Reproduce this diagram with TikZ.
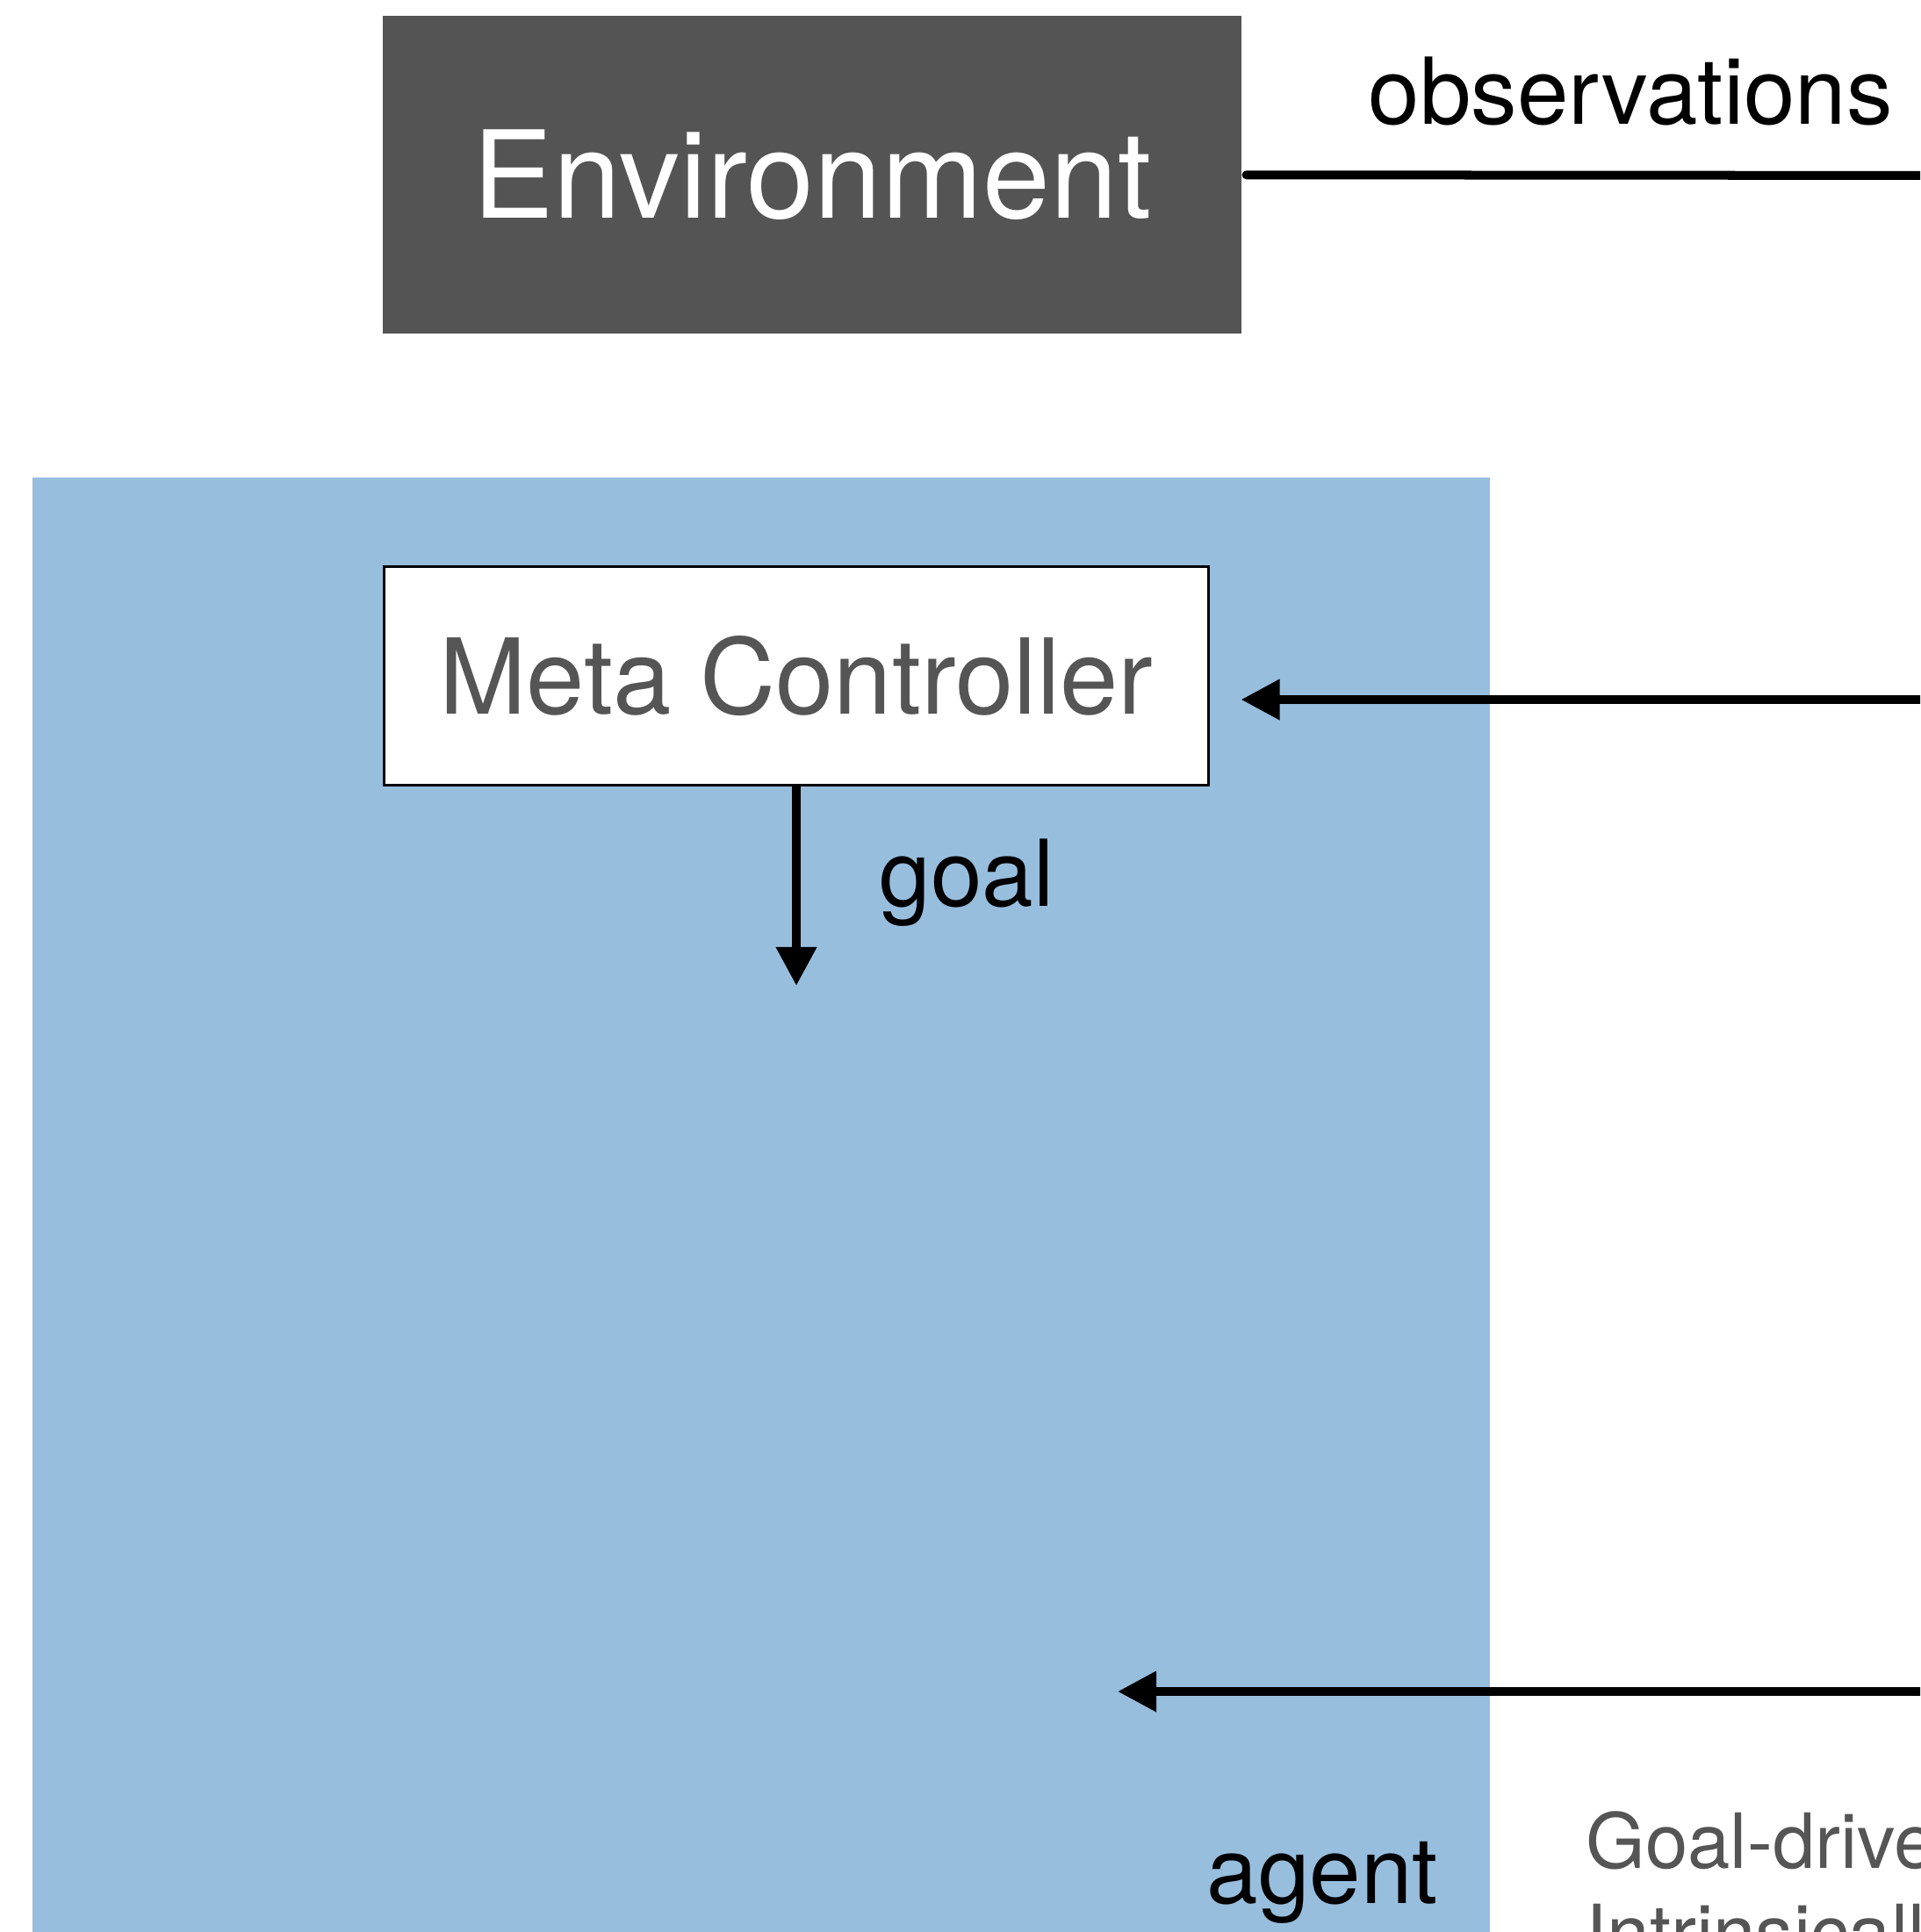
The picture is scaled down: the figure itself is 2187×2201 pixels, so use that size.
\documentclass[tikz,border=0pt]{standalone}
\usepackage{fontspec}
\setmainfont{TeX Gyre Heros}
\usetikzlibrary{arrows.meta}
\definecolor{agentblue}{RGB}{152,190,222}
\definecolor{envgray}{RGB}{84,84,84}
\definecolor{txtgray}{RGB}{85,85,85}
\begin{document}
\begin{tikzpicture}[x=0.01cm,y=-0.01cm,
  conn/.style={line width=0.1cm, -{Triangle[length=0.44cm,width=0.44cm]}},
  lbl/.style={inner sep=0, anchor=base west, font=\fontsize{29.9}{36}\selectfont},
  note/.style={lbl, text=txtgray, font=\fontsize{24.7}{30}\selectfont}]
\useasboundingbox (0,0) rectangle (2187,2201);
\clip (0,0) rectangle (2187,2201);

% agent area
\fill[agentblue] (36.7,544) rectangle (1697,2260);

% boxes
\node[fill=envgray, minimum width=9.77cm, minimum height=3.62cm, inner sep=0,
      text=white, font=\fontsize{39.3}{45}\selectfont] (env) at (925,199.3) {Environment};
\node[draw=black, line width=0.025cm, fill=white, minimum width=9.38cm, minimum height=2.485cm,
      inner sep=0, text=txtgray, font=\fontsize{33.9}{40}\selectfont] (meta) at (907,770) {Meta Controller};

% connector end points
\coordinate (obsR) at (2260,200);
\coordinate (mcR) at (2260,797);
\coordinate (mcIn) at (1413.5,797);
\coordinate (goalTip) at (907,1123);
\coordinate (botR) at (2260,1927);
\coordinate (botTip) at (1273,1927);

% connectors
\draw[line width=0.1cm, line cap=round] ([xshift=0.05cm]env.east) -- (obsR);
\draw[conn] (mcR) -- (mcIn);
\draw[conn] (meta.south) -- (goalTip);
\draw[conn] (botR) -- (botTip);

% labels
\node[lbl] (obs) at (1558,142) {observations};
\node[lbl] (goal) at (1001,1032) {goal};
\node[lbl] (agent) at (1374,2168) {agent};
\node[note] (gd1) at (1806,2128) {Goal-driven};
\node[note] (gd2) at (1806,2232) {Intrinsically};
\end{tikzpicture}
\end{document}
